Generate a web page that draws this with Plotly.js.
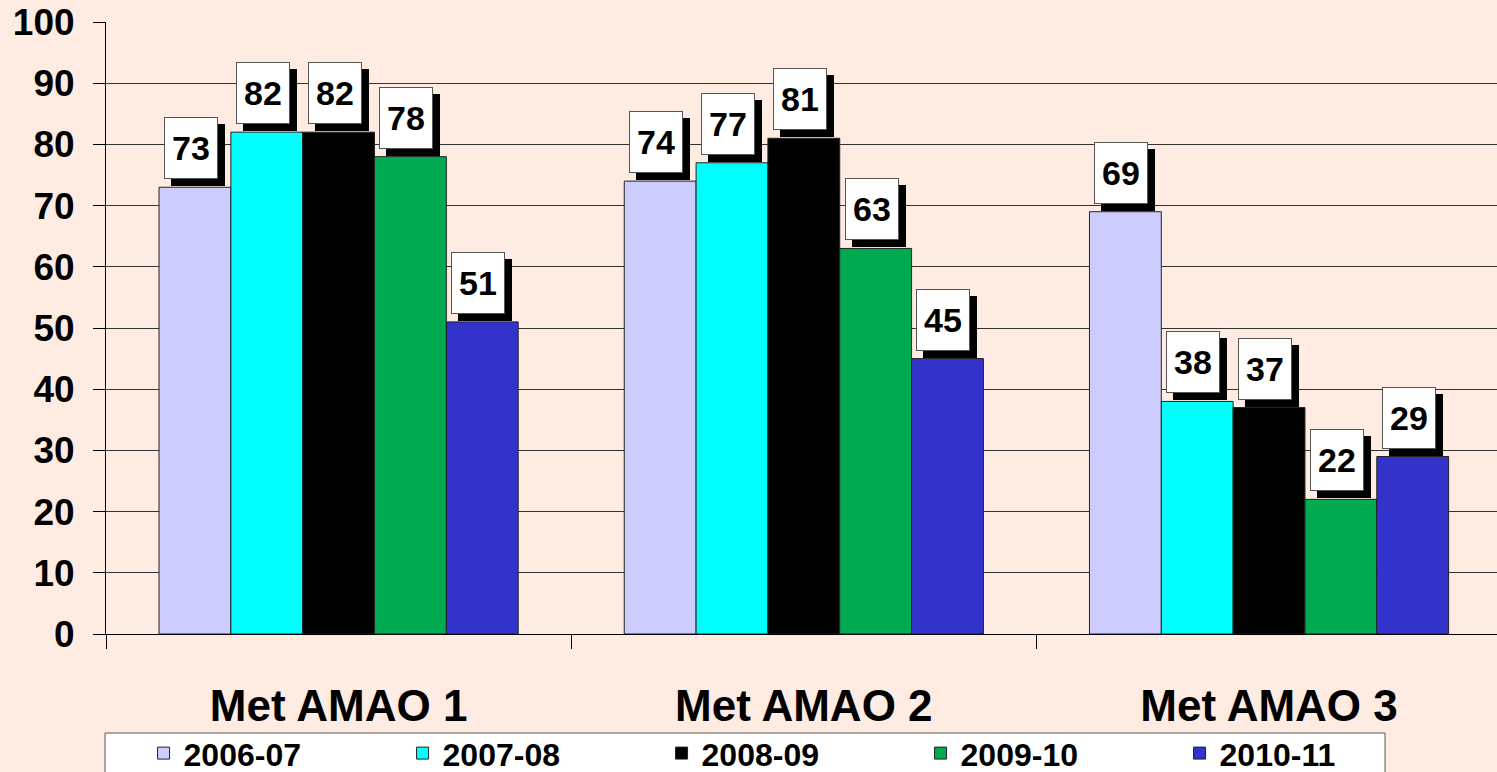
<!DOCTYPE html>
<html>
<head>
<meta charset="utf-8">
<script src="https://cdn.plot.ly/plotly-3.0.1.min.js"></script>
<style>html,body{margin:0;padding:0;background:#FEEBE1;}#chart{width:1497px;height:772px;}</style>
</head>
<body>
<div id="chart"></div>
<script>
const categories = ["Met AMAO 1", "Met AMAO 2", "Met AMAO 3"];
const seriesNames = ["2006-07", "2007-08", "2008-09", "2009-10", "2010-11"];
const s2006 = [73, 74, 69];
const s2007 = [82, 77, 38];
const s2008 = [82, 81, 37];
const s2009 = [78, 63, 22];
const s2010 = [51, 45, 29];
const seriesValues = [s2006, s2007, s2008, s2009, s2010];
const colors = ["#CCCCFF", "#00FFFF", "#000000", "#00AA50", "#3333CC"];
const yTicks = [0, 10, 20, 30, 40, 50, 60, 70, 80, 90, 100];

const FONT = "Liberation Sans, Arial, sans-serif";
const bargap = 0.228;
const barW = (1 - bargap) / seriesNames.length;

const traces = seriesNames.map((name, i) => ({
  type: "bar",
  name: name,
  x: categories,
  y: seriesValues[i],
  marker: {color: colors[i], line: {color: "#222222", width: 1}},
  hoverinfo: "none"
}));

const annotations = [];
seriesValues.forEach((vals, si) => {
  vals.forEach((v, ci) => {
    const xpos = ci + (si - (seriesNames.length - 1) / 2) * barW;
    const common = {
      xref: "x", yref: "y", x: xpos, y: v,
      xanchor: "center", yanchor: "bottom",
      showarrow: false,
      width: 48, height: 56, borderpad: 2, borderwidth: 1,
      font: {family: FONT, size: 34, color: "#000", weight: "bold"},
      valign: "middle", align: "center"
    };
    // drop shadow box
    annotations.push(Object.assign({}, common, {
      text: " ", bgcolor: "#000000", bordercolor: "#000000",
      xshift: 3, yshift: 1
    }));
    // label box
    annotations.push(Object.assign({}, common, {
      text: String(v), bgcolor: "#FFFFFF", bordercolor: "#555555",
      xshift: -4, yshift: 8
    }));
  });
});

const layout = {
  width: 1497, height: 772,
  paper_bgcolor: "#FEEBE1",
  plot_bgcolor: "#FEEBE1",
  margin: {l: 106, r: 0, t: 22, b: 138, pad: 0, autoexpand: false},
  barmode: "group",
  bargap: bargap,
  bargroupgap: 0,
  showlegend: true,
  legend: {
    orientation: "h",
    x: 0.027, xanchor: "left",
    y: -0.150, yanchor: "top",
    bgcolor: "rgba(0,0,0,0)",
    borderwidth: 0,
    font: {family: FONT, size: 32, color: "#000", weight: "bold"},
    entrywidth: 214, entrywidthmode: "pixels",
    traceorder: "normal"
  },
  shapes: [{
    type: "rect", xref: "paper", yref: "paper",
    x0: -0.0007, x1: 0.9195, y0: -0.1618, y1: -0.235,
    fillcolor: "#FFFFFF", line: {color: "#555555", width: 1}, layer: "above"
  }],
  xaxis: {
    type: "category",
    range: [-0.5, 2.49],
    showline: true, linecolor: "#000", linewidth: 1,
    ticks: "outside", tickson: "boundaries", ticklen: 14, tickcolor: "#000",
    tickfont: {family: FONT, size: 44, color: "#000", weight: "bold"},
    ticklabelstandoff: 33,
    showgrid: false,
    fixedrange: true
  },
  yaxis: {
    range: [0, 100],
    tickvals: yTicks,
    ticktext: yTicks.map(String),
    showline: true, linecolor: "#000", linewidth: 1,
    ticks: "outside", ticklen: 12, tickcolor: "#000",
    tickfont: {family: FONT, size: 37, color: "#000", weight: "bold"},
    ticklabelstandoff: 11,
    showgrid: true, gridcolor: "#333333", gridwidth: 1,
    zeroline: false,
    fixedrange: true
  },
  annotations: annotations
};

Plotly.newPlot("chart", traces, layout, {displayModeBar: false, staticPlot: true});
</script>
</body>
</html>
